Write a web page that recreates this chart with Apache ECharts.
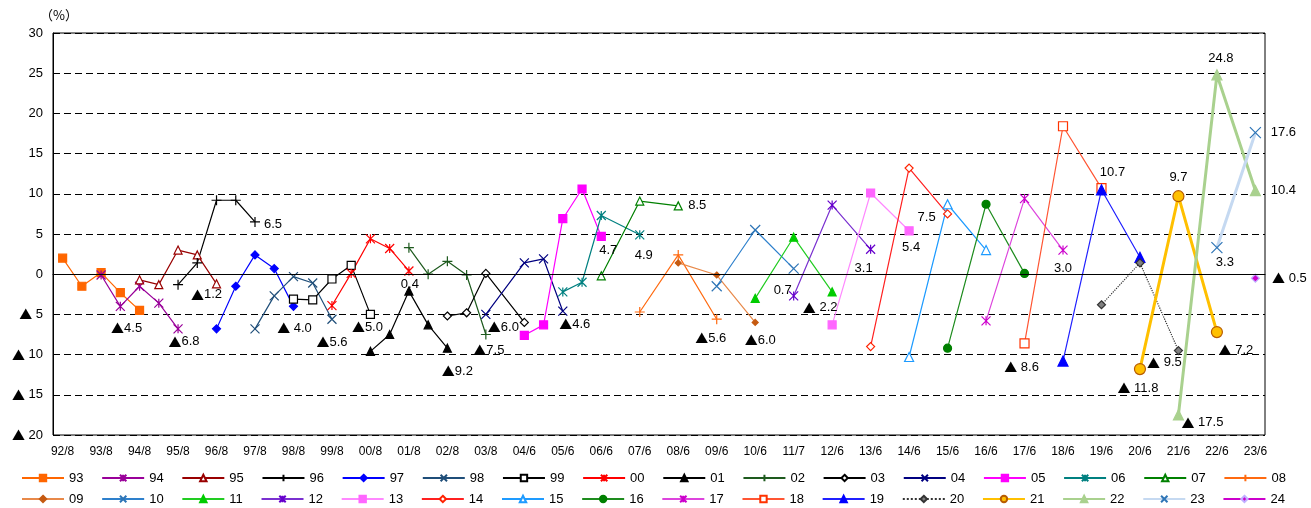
<!DOCTYPE html>
<html><head><meta charset="utf-8">
<script src="https://cdn.jsdelivr.net/npm/echarts@6/dist/echarts.min.js"></script>
<style>html,body{margin:0;padding:0;background:#fff}#c{width:1311px;height:508px}</style>
</head><body><div id="c"></div>
<script>
// ---- x tick labels (one per survey year; half-year slots between them) ----
const xLabels = ['92/8','93/8','94/8','95/8','96/8','97/8','98/8','99/8','00/8','01/8','02/8','03/8','04/6','05/6','06/6','07/6','08/6','09/6','10/6','11/7','12/6','13/6','14/6','15/6','16/6','17/6','18/6','19/6','20/6','21/6','22/6','23/6'];
// ---- series values: [slot, value]; 'xx+' = half-year slot after label xx ----
const s93 = [['92/8',2.0],['92/8+',-1.5],['93/8',0.2],['93/8+',-2.3],['94/8',-4.5]];
const s94 = [['93/8',-0.1],['93/8+',-4.0],['94/8',-1.5],['94/8+',-3.6],['95/8',-6.8]];
const s95 = [['94/8',-0.7],['94/8+',-1.3],['95/8',3.0],['95/8+',2.4],['96/8',-1.2]];
const s96 = [['95/8',-1.3],['95/8+',1.4],['96/8',9.2],['96/8+',9.2],['97/8',6.5]];
const s97 = [['96/8',-6.8],['96/8+',-1.5],['97/8',2.4],['97/8+',0.7],['98/8',-4.0]];
const s98 = [['97/8',-6.8],['97/8+',-2.7],['98/8',-0.3],['98/8+',-1.1],['99/8',-5.6]];
const s99 = [['98/8',-3.1],['98/8+',-3.2],['99/8',-0.6],['99/8+',1.1],['00/8',-5.0]];
const s00 = [['99/8',-3.9],['99/8+',0.1],['00/8',4.4],['00/8+',3.2],['01/8',0.4]];
const s01 = [['00/8',-9.6],['00/8+',-7.5],['01/8',-2.1],['01/8+',-6.3],['02/8',-9.2]];
const s02 = [['01/8',3.3],['01/8+',0.0],['02/8',1.6],['02/8+',-0.1],['03/8',-7.5]];
const s03 = [['02/8',-5.2],['02/8+',-4.8],['03/8',0.1],['04/6',-6.0]];
const s04 = [['03/8',-5.0],['04/6',1.4],['04/6+',1.9],['05/6',-4.6]];
const s05 = [['04/6',-7.6],['04/6+',-6.3],['05/6',6.9],['05/6+',10.6],['06/6',4.7]];
const s06 = [['05/6',-2.2],['05/6+',-1.0],['06/6',7.3],['07/6',4.9]];
const s07 = [['06/6',-0.2],['07/6',9.1],['08/6',8.5]];
const s08 = [['07/6',-4.7],['08/6',2.4],['09/6',-5.6]];
const s09 = [['08/6',1.4],['09/6',-0.1],['10/6',-6.0]];
const s10 = [['09/6',-1.5],['10/6',5.5],['11/7',0.7]];
const s11 = [['10/6',-3.0],['11/7',4.6],['12/6',-2.2]];
const s12 = [['11/7',-2.7],['12/6',8.6],['13/6',3.1]];
const s13 = [['12/6',-6.3],['13/6',10.1],['14/6',5.4]];
const s14 = [['13/6',-9.0],['14/6',13.2],['15/6',7.5]];
const s15 = [['14/6',-10.3],['15/6',8.7],['16/6',3.0]];
const s16 = [['15/6',-9.2],['16/6',8.7],['17/6',0.1]];
const s17 = [['16/6',-5.8],['17/6',9.4],['18/6',3.0]];
const s18 = [['17/6',-8.6],['18/6',18.4],['19/6',10.7]];
const s19 = [['18/6',-10.8],['19/6',10.5],['20/6',2.1]];
const s20 = [['19/6',-3.8],['20/6',1.4],['21/6',-9.5]];
const s21 = [['20/6',-11.8],['21/6',9.7],['22/6',-7.2]];
const s22 = [['21/6',-17.5],['22/6',24.8],['23/6',10.4]];
const s23 = [['22/6',3.3],['23/6',17.6]];
const s24 = [['23/6',-0.5]];
const seriesNames = ['93','94','95','96','97','98','99','00','01','02','03','04','05','06','07','08','09','10','11','12','13','14','15','16','17','18','19','20','21','22','23','24'];
const seriesValues = [s93,s94,s95,s96,s97,s98,s99,s00,s01,s02,s03,s04,s05,s06,s07,s08,s09,s10,s11,s12,s13,s14,s15,s16,s17,s18,s19,s20,s21,s22,s23,s24];
// ---- which points carry a value label: [series, point index] ----
const labelledPoints = [['93',4],['94',4],['95',4],['96',4],['97',4],['98',4],['99',4],['00',4],['01',4],['02',4],['03',3],['04',3],['05',4],['06',3],['07',2],['08',2],['09',2],['10',2],['11',2],['12',2],['13',2],['14',2],['17',2],['18',0],['18',2],['20',2],['21',0],['21',1],['21',2],['22',0],['22',1],['22',2],['23',0],['23',1],['24',0]];

// ---- styles (kept apart from data) ----
const labelPlacement = { // [dx, dy, spaceAfterTriangle]
 '93-4':[-13,18,0],'94-4':[6,13,0],'95-4':[-10,11,0],'96-4':[18,2,0],'97-4':[1,22,1],'98-4':[0,23,0],
 '99-4':[-3,13,0],'00-4':[1,13,0],'01-4':[10,23,0],'02-4':[3,16,0],'03-3':[-21,5,0],'04-3':[12,13,0],
 '05-4':[7,14,0],'06-3':[4,21,0],'07-2':[19,0,0],'08-2':[-6,19,0],'09-2':[5,18,0],'10-2':[-11,22,0],
 '11-2':[-12,16,1],'12-2':[-7,19,0],'13-2':[2,17,0],'14-2':[-21,4,0],'17-2':[0,18,0],'18-0':[-3,24,1],
 '18-2':[11,-16,0],'20-2':[-14,12,1],'21-0':[-2,19,1],'21-1':[0,-19,0],'21-2':[19,18,1],'22-0':[24,8,1],
 '22-1':[4,-16,0],'22-2':[28,0,0],'23-0':[8,15,0],'23-1':[28,0,0],'24-0':[34,0,1]
};
const X = 'path://M0,0L10,10M10,0L0,10';
const PLUS = 'path://M5,0L5,10M0,5L10,5';
const AST = 'path://M0,0L10,10M10,0L0,10M5,0L5,10';
const W = '#ffffff';
const styles = {
 '93':{sym:'rect',size:8,c:'#FF6600'},
 '94':{sym:AST,size:9,c:'#990099'},
 '95':{sym:'triangle',size:8,c:'#990000',fill:W},
 '96':{sym:PLUS,size:10,c:'#000000'},
 '97':{sym:'diamond',size:8,c:'#0000FF'},
 '98':{sym:X,size:9,c:'#1F4E79'},
 '99':{sym:'rect',size:8,c:'#000000',fill:W},
 '00':{sym:AST,size:9,c:'#FF0000'},
 '01':{sym:'triangle',size:8,c:'#000000'},
 '02':{sym:PLUS,size:10,c:'#1E5A1E'},
 '03':{sym:'diamond',size:8,c:'#000000',fill:W},
 '04':{sym:X,size:9,c:'#000080'},
 '05':{sym:'rect',size:8,c:'#FF00FF'},
 '06':{sym:AST,size:9,c:'#008080'},
 '07':{sym:'triangle',size:8,c:'#008000',fill:W},
 '08':{sym:PLUS,size:10,c:'#FF6A10'},
 '09':{sym:'diamond',size:6,c:'#C55A11',line:'#E8894A'},
 '10':{sym:X,size:10,c:'#2E75B6',line:'#2E80CC'},
 '11':{sym:'triangle',size:8,c:'#00CC00',line:'#22CC22'},
 '12':{sym:AST,size:9,c:'#6600CC',line:'#7A30D0'},
 '13':{sym:'rect',size:8,c:'#FF66FF',line:'#FF88FF'},
 '14':{sym:'diamond',size:8,c:'#FF2200',fill:W,line:'#FF2020'},
 '15':{sym:'triangle',size:9,c:'#1E9BFF',fill:W},
 '16':{sym:'circle',size:8,c:'#008000',line:'#1E8C1E'},
 '17':{sym:AST,size:9,c:'#CC00CC',line:'#DD44DD'},
 '18':{sym:'rect',size:9,c:'#FF3300',fill:W,line:'#FF5533'},
 '19':{sym:'triangle',size:10,c:'#0000FF',line:'#2020FF'},
 '20':{sym:'diamond',size:8,c:'#333333',fill:'#808080',line:'#333333',dash:'dotted'},
 '21':{sym:'circle',size:11,c:'#B85C00',fill:'#FFC000',line:'#FFC000',width:3},
 '22':{sym:'triangle',size:10,c:'#A9D18E',line:'#A9D18E',width:3},
 '23':{sym:X,size:11,c:'#2E75B6',line:'#C5D9F1',width:3},
 '24':{sym:'diamond',size:8,c:'#C0B0FF',fill:'#CC00CC',line:'#CC00CC',width:5}
};
const FONT = '"Liberation Sans", Arial, "Noto Sans CJK JP", sans-serif';
const CJK = '"Noto Sans CJK JP", sans-serif';
const triRich = { t: { fontFamily: CJK, fontSize: 13, color: '#000' } };

const cats = [];
xLabels.forEach((l, i) => { cats.push(l); if (i < xLabels.length - 1) cats.push(l + '+'); });

function fmt(v, sp) { return v < 0 ? '{t|▲}' + (sp ? ' ' : '') + Math.abs(v).toFixed(1) : v.toFixed(1); }

const series = seriesNames.map((name, k) => {
  const st = styles[name];
  const data = seriesValues[k].map((p, i) => {
    const item = { value: p };
    const has = labelledPoints.some(l => l[0] === name && l[1] === i);
    if (has) {
      const pl = labelPlacement[name + '-' + i] || [0, -14, 0];
      item.label = { show: true, position: 'inside', offset: [pl[0], pl[1]], formatter: fmt(p[1], pl[2]) };
    }
    return item;
  });
  const s = {
    name, type: 'line', data, symbol: st.sym, symbolSize: st.size, showAllSymbol: true,
    lineStyle: { color: st.line || st.c, width: st.width || 1.2, type: st.dash || 'solid' },
    itemStyle: { color: st.fill || st.c, borderColor: st.c, borderWidth: 1.2 },
    label: { fontSize: 13, color: '#000', fontFamily: FONT, rich: triRich },
    emphasis: { disabled: true }, animation: false
  };
  if (k === 0) {
    s.markLine = { silent: true, symbol: 'none', label: { show: false }, animation: false,
      lineStyle: { color: '#000', width: 1, type: 'solid' }, data: [{ yAxis: 0 }] };
  }
  return s;
});

const legendCommon = { left: 21, padding: 0, itemWidth: 42, itemHeight: 8, itemGap: 17.7,
  textStyle: { fontSize: 13, color: '#000', fontFamily: FONT }, selectedMode: false };

const chart = echarts.init(document.getElementById('c'), null, { renderer: 'canvas' });
chart.setOption({
  backgroundColor: '#fff',
  animation: false,
  textStyle: { fontFamily: FONT },
  grid: { left: 53, right: 46, top: 33, bottom: 73, containLabel: false, outerBoundsMode: 'none',
    show: true, borderColor: '#000', borderWidth: 1, backgroundColor: 'transparent' },
  graphic: [{ type: 'text', left: 40, top: 9, style: { text: '（%）', fontSize: 13, fill: '#000', fontFamily: CJK } }],
  legend: [
    Object.assign({ top: 471.5, data: seriesNames.slice(0, 16) }, legendCommon),
    Object.assign({ top: 492.5, data: seriesNames.slice(16) }, legendCommon)
  ],
  xAxis: { type: 'category', data: cats, boundaryGap: true,
    axisLine: { show: true, lineStyle: { color: '#000', width: 1 } },
    axisTick: { show: false },
    axisLabel: { interval: 0, margin: 11, fontSize: 12, color: '#000', fontFamily: FONT,
      formatter: v => (v.endsWith('+') ? '' : v) },
    splitLine: { show: false } },
  yAxis: { type: 'value', min: -20, max: 30, interval: 5,
    axisLine: { show: true, lineStyle: { color: '#000', width: 1 } },
    axisTick: { show: false },
    axisLabel: { margin: 10, fontSize: 13, color: '#000', fontFamily: FONT, rich: triRich,
      formatter: v => (v < 0 ? '{t|▲} ' + (-v) : String(v)) },
    splitLine: { show: true, lineStyle: { color: '#000', width: 1, type: [7, 4] } } },
  series
});
</script></body></html>
